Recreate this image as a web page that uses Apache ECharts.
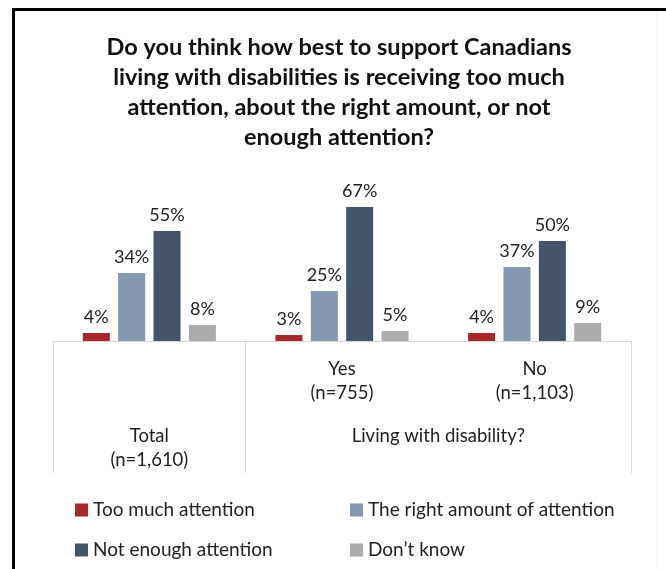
<!DOCTYPE html>
<html>
<head>
<meta charset="utf-8">
<script src="https://cdn.jsdelivr.net/npm/echarts@6/dist/echarts.min.js"></script>
<style>
  html, body { margin: 0; padding: 0; background: #fff; }
  #chart { width: 666px; height: 569px; }
</style>
</head>
<body>
<div id="chart"></div>
<script>
// Survey question and groups
const titleText = 'Do you think how best to support Canadians\nliving with disabilities is receiving too much\nattention, about the right amount, or not\nenough attention?';
const innerLabels = ['', 'Yes\n(n=755)', 'No\n(n=1,103)'];
// Outer level: points spanning the three groups (half-category steps)
const outerLabels = ['', 'Total\n(n=1,610)', '', '', 'Living with disability?', '', ''];
const outerDividers = [0, 2, 6];

const seriesNames = ['Too much attention', 'The right amount of attention', 'Not enough attention', 'Don\u2019t know'];
const tooMuch = [4, 3, 4];
const rightAmount = [34, 25, 37];
const notEnough = [55, 67, 50];
const dontKnow = [8, 5, 9];
const colors = ['#A8282A', '#8497B0', '#44546A', '#ABABAB'];

const font = 'Lato, "Open Sans", sans-serif';
const chart = echarts.init(document.getElementById('chart'), null, { renderer: 'canvas' });

function barSeries(name, values, color) {
  return {
    name: name,
    type: 'bar',
    xAxisIndex: 0,
    data: values,
    barWidth: 27,
    barGap: '31%',
    itemStyle: { color: color },
    label: {
      show: true,
      position: 'top',
      distance: 7,
      formatter: '{c}%',
      fontFamily: font,
      fontSize: 18,
      color: '#222'
    }
  };
}

function legendColumn(names, left) {
  return {
    data: names,
    orient: 'vertical',
    left: left,
    top: 495,
    itemWidth: 13,
    itemHeight: 13,
    itemGap: 20,
    icon: 'rect',
    textStyle: { fontFamily: font, fontSize: 19, lineHeight: 20, color: '#222' }
  };
}

chart.setOption({
  backgroundColor: '#fff',
  animation: false,
  title: {
    text: titleText,
    left: 339,
    top: 32,
    textAlign: 'center',
    padding: 0,
    textStyle: {
      fontFamily: font,
      fontSize: 23.5,
      fontWeight: 'bold',
      lineHeight: 30,
      color: '#111'
    }
  },
  legend: [
    legendColumn([seriesNames[0], seriesNames[2]], 70),
    legendColumn([seriesNames[1], seriesNames[3]], 345)
  ],
  grid: { left: 53, right: 35, top: 181, bottom: 228, containLabel: false },
  xAxis: [
    {
      type: 'category',
      data: innerLabels,
      position: 'bottom',
      axisLine: { show: true, lineStyle: { color: '#D9D9D9', width: 1 } },
      axisTick: { show: false },
      axisLabel: {
        interval: 0,
        margin: 16,
        fontFamily: font,
        fontSize: 18.5,
        lineHeight: 24,
        color: '#222'
      }
    },
    {
      type: 'category',
      data: outerLabels,
      position: 'bottom',
      offset: 0,
      boundaryGap: false,
      axisLine: { show: false },
      axisTick: {
        show: true,
        length: 132,
        interval: function (index) { return outerDividers.indexOf(index) !== -1; },
        lineStyle: { color: '#D9D9D9', width: 1 }
      },
      axisLabel: {
        interval: 0,
        margin: 83,
        verticalAlign: 'top',
        fontFamily: font,
        fontSize: 18.5,
        lineHeight: 24,
        color: '#222'
      }
    }
  ],
  yAxis: { type: 'value', min: 0, max: 80, show: false, splitLine: { show: false } },
  series: [
    barSeries(seriesNames[0], tooMuch, colors[0]),
    barSeries(seriesNames[1], rightAmount, colors[1]),
    barSeries(seriesNames[2], notEnough, colors[2]),
    barSeries(seriesNames[3], dontKnow, colors[3])
  ],
  graphic: [
    { type: 'line', shape: { x1: 12, y1: 9.5, x2: 666, y2: 9.5 }, style: { stroke: '#000', lineWidth: 3 }, silent: true },
    { type: 'line', shape: { x1: 13.5, y1: 8, x2: 13.5, y2: 569 }, style: { stroke: '#000', lineWidth: 3 }, silent: true },
    { type: 'line', shape: { x1: 657, y1: 11, x2: 657, y2: 569 }, style: { stroke: '#EEEEEE', lineWidth: 1 }, silent: true }
  ]
});
</script>
</body>
</html>
